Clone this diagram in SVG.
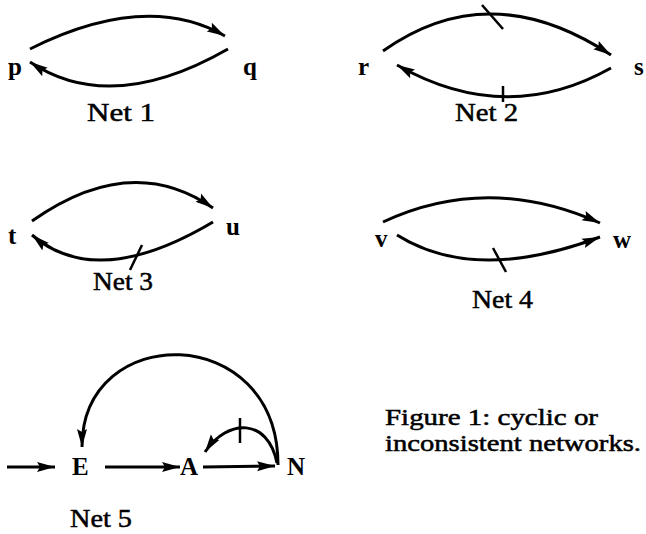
<svg xmlns="http://www.w3.org/2000/svg" width="646" height="534" viewBox="0 0 646 534">
<style>
.n{font-family:'Liberation Serif','Times New Roman',Times,serif;font-weight:bold;font-size:25px;fill:#000}
.l{font-family:'Liberation Serif','Times New Roman',Times,serif;font-size:26px;fill:#000;stroke:#000;stroke-width:0.5}
.c{font-family:'Liberation Serif','Times New Roman',Times,serif;font-size:23px;fill:#000;stroke:#000;stroke-width:0.5}
.e{fill:none;stroke:#000;stroke-width:3}
.a{marker-end:url(#ah)}
.t{fill:none;stroke:#000;stroke-width:2.5}
</style>
<defs>
<marker id="ah" markerUnits="userSpaceOnUse" markerWidth="20" markerHeight="12" refX="18" refY="5" orient="auto" viewBox="0 0 20 10">
<path d="M0,0 L18,5 L0,10 L3,5 z" fill="#000"/>
</marker>
</defs>
<rect width="646" height="534" fill="#fff"/>
<g id="connectors">
<path class="e a" d="M30,49 Q146,-9 225,36"/>
<path class="e a" d="M228,49 Q111,116 30,62"/>
<path class="e a" d="M383,51 Q490,-25 611,55"/>
<line class="t" x1="482" y1="5" x2="503" y2="29"/>
<path class="e a" d="M611,68 Q506,127 397,65"/>
<line class="t" x1="503" y1="86" x2="503" y2="102"/>
<path class="e a" d="M32,221 Q131,151 213,208"/>
<path class="e a" d="M213,222 Q97,291 32,235"/>
<line class="t" x1="142" y1="245" x2="130" y2="270"/>
<path class="e a" d="M383,222 Q488,173 600,223"/>
<path class="e a" d="M397,235 Q475,284 600,237"/>
<line class="t" x1="493" y1="248" x2="506" y2="272"/>
<path class="e a" d="M7,467 L55,467"/>
<path class="e a" d="M105,467 L180,467"/>
<path class="e a" d="M203,467 L275,466"/>
<path class="e a" d="M278,465 C278,321 82,321 82,447"/>
<path class="e a" d="M277,463 C268,418 228,418 205,452"/>
<line class="t" x1="240" y1="418" x2="240" y2="443"/>
</g>
<g id="node-p"><text class="n" x="8" y="75">p</text></g>
<g id="node-q"><text class="n" x="243" y="75">q</text></g>
<g id="node-r"><text class="n" x="358" y="75">r</text></g>
<g id="node-s"><text class="n" x="634" y="75">s</text></g>
<g id="node-t"><text class="n" x="8" y="244">t</text></g>
<g id="node-u"><text class="n" x="226" y="235">u</text></g>
<g id="node-v"><text class="n" x="375" y="247">v</text></g>
<g id="node-w"><text class="n" x="613" y="248">w</text></g>
<g id="node-E"><text class="n" x="72" y="475">E</text></g>
<g id="node-A"><text class="n" x="180" y="475">A</text></g>
<g id="node-N"><text class="n" x="287" y="475">N</text></g>
<g id="labels">
<text class="l" x="87" y="121" textLength="68" lengthAdjust="spacingAndGlyphs">Net 1</text>
<text class="l" x="455" y="121" textLength="63" lengthAdjust="spacingAndGlyphs">Net 2</text>
<text class="l" x="93" y="290" textLength="60" lengthAdjust="spacingAndGlyphs">Net 3</text>
<text class="l" x="472" y="308" textLength="61" lengthAdjust="spacingAndGlyphs">Net 4</text>
<text class="l" x="70" y="527" textLength="62" lengthAdjust="spacingAndGlyphs">Net 5</text>
</g>
<g id="caption">
<text class="c" x="385" y="425" textLength="213" lengthAdjust="spacingAndGlyphs">Figure 1: cyclic or</text>
<text class="c" x="385" y="451" textLength="256" lengthAdjust="spacingAndGlyphs">inconsistent networks.</text>
</g>
</svg>
